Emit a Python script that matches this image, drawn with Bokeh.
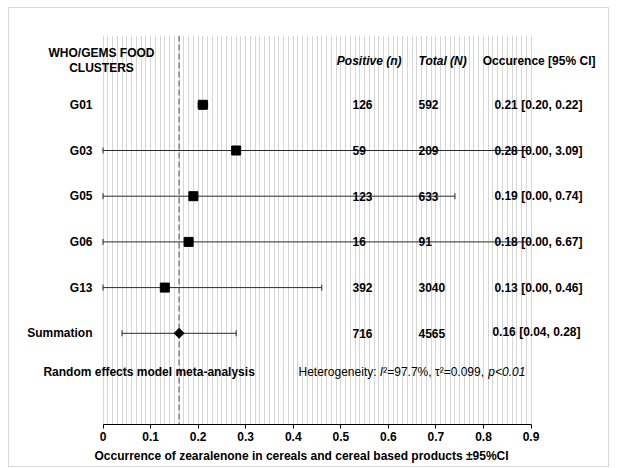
import math
from bokeh.plotting import figure
from bokeh.models import Range1d, FixedTicker, Span, Title
from bokeh.core.properties import value
from bokeh.embed import file_html
from bokeh.resources import INLINE

# ---------------- data ----------------
clusters = ["G01", "G03", "G05", "G06", "G13"]
estimate = [0.21, 0.28, 0.19, 0.18, 0.13]
ci_lower = [0.20, 0.00, 0.00, 0.00, 0.00]
ci_upper = [0.22, 3.09, 0.74, 6.67, 0.46]
positive_n = [126, 59, 123, 16, 392]
total_n = [592, 209, 633, 91, 3040]

summary_label = "Summation"
summary_positive = 716
summary_total = 4565
summary_estimate = 0.16
summary_lower = 0.04
summary_upper = 0.28

heterogeneity_i2 = "97.7%"
heterogeneity_tau2 = "0.099"
heterogeneity_p = "p<0.01"

x_ticks = [0, 0.1, 0.2, 0.3, 0.4, 0.5, 0.6, 0.7, 0.8, 0.9]
x_tick_labels = ["0", "0.1", "0.2", "0.3", "0.4", "0.5", "0.6", "0.7", "0.8", "0.9"]

header_left = ["WHO/GEMS FOOD", "CLUSTERS"]
header_pos = "Positive (n)"
header_tot = "Total (N)"
header_ci = "Occurence [95% CI]"
footer_label = "Random effects model meta-analysis"
x_title = "Occurrence of zearalenone in cereals and cereal based products \u00b195%CI"

# ---------------- layout ----------------
FONT = "Liberation Sans"
FS = "12px"
OX, OY = 9, 8          # page position of the canvas origin
W, H = 601, 460
X0 = 102.5 - OX        # canvas px of x = 0
PXU = 475.6            # px per unit of x
FRAME_TOP, FRAME_BOT = 35 - OY, 424 - OY
ROW0, ROW_DY = 104.3 - OY, 45.7
X_MAX = x_ticks[-1]

def dx(page_x):
    return (page_x - OX - X0) / PXU

def row_y(page_y):
    return (page_y - OY - ROW0) / ROW_DY

p = figure(width=W, height=H, output_backend="svg", toolbar_location=None,
           x_range=Range1d(-X0 / PXU, (W - X0) / PXU),
           y_range=Range1d((FRAME_BOT - ROW0) / ROW_DY, (FRAME_TOP - ROW0) / ROW_DY),
           y_axis_location=None, min_border_left=0, min_border_right=0,
           min_border_top=FRAME_TOP, min_border_bottom=H - FRAME_BOT,
           styles={"margin-left": "8px", "margin-top": "7px",
                   "border": "1px solid #d9d9d9"})
p.outline_line_color = None
p.background_fill_color = "white"
p.border_fill_color = "white"

# grid
p.ygrid.visible = False
p.xgrid.ticker = FixedTicker(ticks=[i / 100 for i in range(0, 91)])
p.xgrid.grid_line_color = "#d6d6d6"
p.xgrid.grid_line_width = 1

# axis
ax = p.xaxis[0]
ax.ticker = FixedTicker(ticks=x_ticks)
ax.major_label_overrides = dict(zip(x_ticks, x_tick_labels))
ax.bounds = (x_ticks[0], x_ticks[-1])
ax.axis_line_color = "black"
ax.major_tick_line_color = "black"
ax.major_tick_out = 4
ax.major_tick_in = 0
ax.minor_tick_line_color = None
ax.major_label_standoff = 3
ax.major_label_text_font = FONT
ax.major_label_text_font_size = FS
ax.major_label_text_font_style = "bold"
ax.major_label_text_color = "black"

t = Title(text=x_title, align="left", offset=94 - OX, text_font=FONT, text_font_size=FS,
          text_font_style="bold", text_color="black", standoff=7)
p.add_layout(t, "below")

# dashed pooled estimate line
p.add_layout(Span(location=summary_estimate, dimension="height", line_color="#808080",
                  line_width=1.5, line_dash="6 3", level="underlay"))

rows = list(range(len(clusters)))
srow = len(clusters)

# error bars
bar_col = "#2b2b2b"
x1 = [min(u, X_MAX) for u in ci_upper]
p.segment(x0=ci_lower, y0=rows, x1=x1, y1=rows, line_color=bar_col, line_width=1)
p.scatter(x=ci_lower, y=rows, marker="dash", angle=math.pi / 2, size=6, line_color=bar_col)
cap_x = [u for u in ci_upper if u <= X_MAX]
cap_y = [r for r, u in zip(rows, ci_upper) if u <= X_MAX]
p.scatter(x=cap_x, y=cap_y, marker="dash", angle=math.pi / 2, size=6, line_color=bar_col)
p.segment(x0=[summary_lower], y0=[srow], x1=[summary_upper], y1=[srow], line_color=bar_col, line_width=1)
p.scatter(x=[summary_lower, summary_upper], y=[srow, srow], marker="dash", angle=math.pi / 2,
          size=6, line_color=bar_col)

# markers
p.scatter(x=estimate, y=rows, marker="square", size=9, color="black")
p.scatter(x=[summary_estimate], y=[srow], marker="square", angle=math.pi / 4, size=7, color="black")

def txt(x, y, s, align="left", style="bold"):
    p.text(x=x, y=y, text=s, text_font=value(FONT), text_font_size=FS,
           text_font_style=style, text_align=align, text_baseline="middle", text_color="black")

# header
txt([dx(101)], [row_y(52)], [header_left[0]], "center")
txt([dx(101)], [row_y(67)], [header_left[1]], "center")
txt([dx(368.7)], [row_y(60)], [header_pos], "center", "bold italic")
txt([dx(418)], [row_y(60)], [header_tot], "left", "bold italic")
txt([dx(538.6)], [row_y(60)], [header_ci], "center")

# rows
ci_text = [f"{e:.2f} [{l:.2f}, {u:.2f}]" for e, l, u in zip(estimate, ci_lower, ci_upper)]
txt([dx(92)] * len(rows), rows, clusters, "right")
txt([dx(352)] * len(rows), rows, [str(v) for v in positive_n], "left")
txt([dx(418)] * len(rows), rows, [str(v) for v in total_n], "left")
txt([dx(582)] * len(rows), rows, ci_text, "right")

txt([dx(92)], [srow], [summary_label], "right")
txt([dx(352)], [srow], [str(summary_positive)], "left")
txt([dx(418)], [srow], [str(summary_total)], "left")
txt([dx(580)], [srow - 0.03],
    [f"{summary_estimate:.2f} [{summary_lower:.2f}, {summary_upper:.2f}]"], "right")

# footer
fy = row_y(371)
txt([dx(148.6)], [fy], [footer_label], "center")

ARIAL = {"H": 722, "e": 556, "t": 278, "r": 333, "o": 556, "g": 556, "n": 556, "i": 222,
         "y": 500, ":": 278, " ": 278, "I": 278, "\u00b2": 333, "=": 584, "%": 889, ",": 278,
         ".": 278, "\u03c4": 480, "p": 556, "<": 584}
def width_px(s):
    return sum(ARIAL.get(c, 556) for c in s) * 12 / 1000

pieces = [("Heterogeneity: ", "normal"), ("I", "italic"),
          (f"\u00b2={heterogeneity_i2}, \u03c4\u00b2={heterogeneity_tau2}, ", "normal"),
          (heterogeneity_p, "italic")]
xp = 298
for s, st in pieces:
    txt([dx(xp)], [fy], [s], "left", st)
    xp += width_px(s)

open("out.html", "w").write(file_html(p, INLINE))
